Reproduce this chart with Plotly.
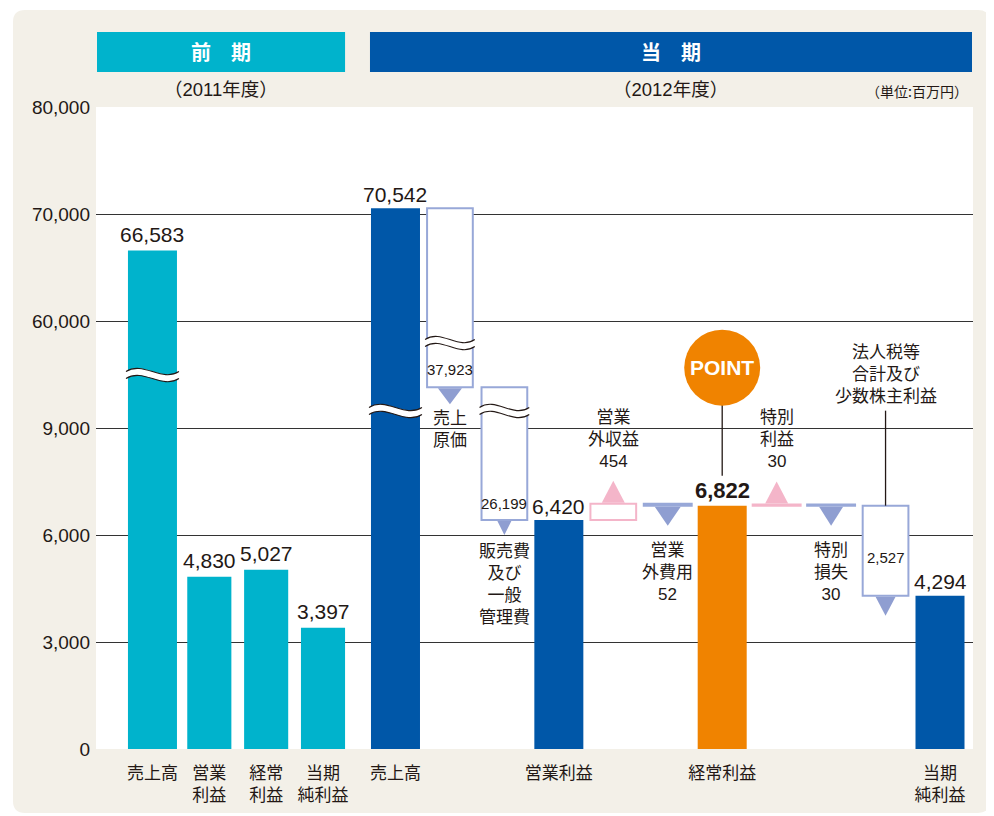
import plotly.graph_objects as go

# ---------------- data ----------------
prev_labels = ["売上高", "営業<br>利益", "経常<br>利益", "当期<br>純利益"]
prev_values = [66583, 4830, 5027, 3397]

cur_labels = ["売上高", "売上<br>原価", "販売費<br>及び<br>一般<br>管理費", "営業利益",
              "営業<br>外収益", "営業<br>外費用", "経常利益", "特別<br>利益", "特別<br>損失",
              "法人税等<br>合計及び<br>少数株主利益", "当期<br>純利益"]
cur_kinds = ["total", "dec", "dec", "total", "inc", "dec", "total", "inc", "dec", "dec", "total"]
cur_values = [70542, 37923, 26199, 6420, 454, 52, 6822, 30, 30, 2527, 4294]

y_tick_values = [0, 3000, 6000, 9000, 60000, 70000, 80000]

period_titles = ["前　期", "当　期"]
period_years = ["（2011年度）", "（2012年度）"]
unit_label = "（単位:百万円）"
point_label = "POINT"
highlight_label = "経常利益"

# ---------------- style ----------------
CYAN = "#00b3cc"
BLUE = "#0057a8"
ORANGE = "#f08300"
PURPLE_LINE = "#98a8d8"
PURPLE_TRI = "#8f9ed1"
PINK = "#f4b5c9"
TEXT = "#231815"
BEIGE = "#f3f0e8"
FONT = "Liberation Sans, Noto Sans CJK JP"
JFONT = "Noto Sans CJK JP"

# the page body has an 8px default margin, so the figure is drawn 8px smaller
PAGE_OFF = 8
W, H = 994 - PAGE_OFF, 816 - PAGE_OFF
# plot area in window pixels: x 96..973, y 107..749
PL, PR, PT, PB = 96, 973, 107, 749
ML, MR, MT, MB = PL - PAGE_OFF, (W + PAGE_OFF) - PR, PT - PAGE_OFF, (H + PAGE_OFF) - PB
PLOT_W = PR - PL
PLOT_H = PB - PT

X_RANGE = [-5.50, 10.606]
PX_X = PLOT_W / (X_RANGE[1] - X_RANGE[0])
Y_RANGE = [0, 6]
PX_Y = PLOT_H / (Y_RANGE[1] - Y_RANGE[0])

# broken axis: 0-9,000 lower segment, 50,000+ upper segment
GAP_LEVEL = 3.38


def ty(v):
    if v <= 9000:
        return v / 3000
    if v >= 50000:
        return 3 + (v - 50000) / 10000
    return GAP_LEVEL


def fmt(v):
    return f"{v:,}"


cur_x = list(range(len(cur_values)))
prev_x = [-4.463 + 1.044 * i for i in range(len(prev_values))]
prev_w = [0.9, 0.81, 0.81, 0.81]

# running waterfall levels
bottoms, tops = [], []
level = 0
for kind, v in zip(cur_kinds, cur_values):
    if kind == "total":
        b, t = 0, v
        level = v
    elif kind == "dec":
        t, b = level, level - v
        level = b
    else:
        b, t = level, level + v
        level = t
    bottoms.append(b)
    tops.append(t)


def px_height(i):
    return (ty(tops[i]) - ty(bottoms[i])) * PX_Y


fig = go.Figure()

# previous period bars
fig.add_trace(go.Bar(x=prev_x, y=[ty(v) for v in prev_values], width=prev_w,
                     marker=dict(color=CYAN, line=dict(width=0)), hoverinfo="skip"))

# current totals
tot_idx = [i for i, k in enumerate(cur_kinds) if k == "total"]
fig.add_trace(go.Bar(
    x=[cur_x[i] for i in tot_idx],
    y=[ty(tops[i]) for i in tot_idx],
    width=0.9,
    marker=dict(color=[ORANGE if cur_labels[i] == highlight_label else BLUE for i in tot_idx],
                line=dict(width=0)),
    hoverinfo="skip"))

# steps
for kind, col in (("dec", PURPLE_LINE), ("inc", PINK)):
    for thin in (False, True):
        idx = [i for i, k in enumerate(cur_kinds) if k == kind and (px_height(i) < 6) == thin]
        if not idx:
            continue
        fig.add_trace(go.Bar(
            x=[cur_x[i] for i in idx],
            y=[ty(tops[i]) - ty(bottoms[i]) for i in idx],
            base=[ty(bottoms[i]) for i in idx],
            width=0.88 if thin else 0.84,
            marker=dict(color=col if thin else "white", line=dict(color=col, width=2)),
            hoverinfo="skip"))

shapes = []
annotations = []


def px2paper_x(px):
    return (px - PL) / PLOT_W


def px2paper_y(py):
    return (PB - py) / PLOT_H


# background panel + white plot area
x0p, x1p, y0p, y1p, r = 13, 990, 10, 813, 12
pts = [(x0p + r, y0p), (x1p - r, y0p), (x1p, y0p + r), (x1p, y1p - r), (x1p - r, y1p),
       (x0p + r, y1p), (x0p, y1p - r), (x0p, y0p + r)]
P = [(px2paper_x(a), px2paper_y(b)) for a, b in pts]
c = [(px2paper_x(a), px2paper_y(b)) for a, b in [(x1p, y0p), (x1p, y1p), (x0p, y1p), (x0p, y0p)]]
panel = (f"M{P[0][0]},{P[0][1]} L{P[1][0]},{P[1][1]} Q{c[0][0]},{c[0][1]} {P[2][0]},{P[2][1]} "
         f"L{P[3][0]},{P[3][1]} Q{c[1][0]},{c[1][1]} {P[4][0]},{P[4][1]} "
         f"L{P[5][0]},{P[5][1]} Q{c[2][0]},{c[2][1]} {P[6][0]},{P[6][1]} "
         f"L{P[7][0]},{P[7][1]} Q{c[3][0]},{c[3][1]} {P[0][0]},{P[0][1]} Z")
shapes.append(dict(type="path", xref="paper", yref="paper", path=panel,
                   fillcolor=BEIGE, line=dict(width=0), layer="below"))
shapes.append(dict(type="rect", xref="paper", yref="paper", x0=0, x1=1, y0=0, y1=1,
                   fillcolor="white", line=dict(width=0), layer="below"))

# header bars
hdr_y0, hdr_y1 = px2paper_y(72), px2paper_y(32)
hdr_spans = [(X_RANGE[0] + 1 / PX_X, prev_x[-1] + prev_w[-1] / 2),
             (cur_x[0] - 0.45 - 1 / PX_X, X_RANGE[1] - 1 / PX_X)]
for (xa, xb), col, title, year in zip(hdr_spans, (CYAN, BLUE), period_titles, period_years):
    shapes.append(dict(type="rect", xref="x", yref="paper", x0=xa, x1=xb, y0=hdr_y0, y1=hdr_y1,
                       fillcolor=col, line=dict(width=0), layer="above"))
    annotations.append(dict(x=(xa + xb) / 2, y=px2paper_y(52), xref="x", yref="paper",
                            text=f"<b>{title}</b>", showarrow=False, yanchor="middle",
                            font=dict(family=JFONT, size=20, color="white")))
    annotations.append(dict(x=(xa + xb) / 2, y=px2paper_y(89), xref="x", yref="paper",
                            text=year, showarrow=False, yanchor="middle",
                            font=dict(family=FONT, size=18.5, color=TEXT)))
annotations.append(dict(x=X_RANGE[1] - 3 / PX_X, y=px2paper_y(91), xref="x", yref="paper",
                        text=unit_label, showarrow=False, xanchor="right", yanchor="middle",
                        font=dict(family=JFONT, size=14, color=TEXT)))

# value labels above solid bars
for x, v in zip(prev_x, prev_values):
    annotations.append(dict(x=x, y=ty(v), text=fmt(v), showarrow=False, yanchor="middle",
                            yshift=16, font=dict(family=FONT, size=21, color=TEXT)))
for i in tot_idx:
    hl = cur_labels[i] == highlight_label
    annotations.append(dict(x=cur_x[i], y=ty(tops[i]),
                            text=f"<b>{fmt(cur_values[i])}</b>" if hl else fmt(cur_values[i]),
                            showarrow=False, yanchor="middle", yshift=15 if hl else 14,
                            font=dict(family=FONT, size=22 if hl else 21, color=TEXT)))

# step triangles, labels
tri_size = {1: (24, 16), 2: (14, 14), 4: (23, 22), 5: (26, 19), 7: (23, 22), 8: (24, 19), 9: (20, 19)}
label_shift = {1: -42, 2: -64, 4: 64, 5: -67, 7: 65, 8: -67, 9: 131}
inner_shift = {1: 18, 2: 17, 9: 38}
for i, kind in enumerate(cur_kinds):
    if kind == "total":
        continue
    w, h = tri_size[i]
    if kind == "dec":
        path = f"M{-w/2},-1 L{w/2},-1 L0,{-1-h} Z"
        anchor = bottoms[i]
        col = PURPLE_TRI
    else:
        path = f"M{-w/2},1 L{w/2},1 L0,{1+h} Z"
        anchor = tops[i]
        col = PINK
    shapes.append(dict(type="path", xref="x", yref="y", xsizemode="pixel", ysizemode="pixel",
                       xanchor=cur_x[i], yanchor=ty(anchor), path=path,
                       fillcolor=col, line=dict(width=0), layer="above"))
    tall = px_height(i) > 40
    txt = cur_labels[i] if tall else f"{cur_labels[i]}<br>{fmt(cur_values[i])}"
    label_anchor = tops[i] if label_shift[i] > 0 else anchor
    annotations.append(dict(x=cur_x[i], y=ty(label_anchor), text=txt, showarrow=False,
                            yanchor="middle", yshift=label_shift[i],
                            font=dict(family=FONT, size=17, color=TEXT)))
    if tall:
        annotations.append(dict(x=cur_x[i], y=ty(bottoms[i]), text=fmt(cur_values[i]),
                                showarrow=False, yanchor="middle", yshift=inner_shift[i],
                                font=dict(family=FONT, size=15, color=TEXT)))

# leader line for taxes label
tax_i = 9
shapes.append(dict(type="line", xref="x", yref="y", xsizemode="pixel", ysizemode="pixel",
                   xanchor=cur_x[tax_i], yanchor=ty(tops[tax_i]), x0=0, x1=0, y0=0, y1=95,
                   line=dict(color=TEXT, width=1.3), layer="above"))

# POINT marker
hl_i = cur_labels.index(highlight_label)
shapes.append(dict(type="line", xref="x", yref="y", xsizemode="pixel", ysizemode="pixel",
                   xanchor=cur_x[hl_i], yanchor=ty(tops[hl_i]), x0=0, x1=0, y0=30, y1=101,
                   line=dict(color=TEXT, width=1.3), layer="above"))
shapes.append(dict(type="circle", xref="x", yref="y", xsizemode="pixel", ysizemode="pixel",
                   xanchor=cur_x[hl_i], yanchor=ty(tops[hl_i]), x0=-38, x1=38, y0=100, y1=176,
                   fillcolor=ORANGE, line=dict(width=0), layer="above"))
annotations.append(dict(x=cur_x[hl_i], y=ty(tops[hl_i]), text=f"<b>{point_label}</b>",
                        showarrow=False, yanchor="middle", yshift=138,
                        font=dict(family="Liberation Sans", size=21, color="white")))


# axis-break squiggles
def squiggle(xc, half_w, level):
    x0, x1 = -half_w - 2, half_w + 2
    wd = x1 - x0
    band = 3.5
    cpa = 11

    def curve(yc, rev=False):
        if not rev:
            return f"{x0},{yc} C{x0 + wd*0.33},{yc + cpa} {x0 + wd*0.67},{yc - cpa} {x1},{yc}"
        return f"{x1},{yc} C{x0 + wd*0.67},{yc - cpa} {x0 + wd*0.33},{yc + cpa} {x0},{yc}"

    common = dict(type="path", xref="x", yref="y", xsizemode="pixel", ysizemode="pixel",
                  xanchor=xc, yanchor=level, layer="above")
    shapes.append(dict(path=f"M{curve(band)} L{curve(-band, True)} Z",
                       fillcolor="white", line=dict(width=0), **common))
    shapes.append(dict(path=f"M{curve(band)}", line=dict(color=TEXT, width=1.1), **common))
    shapes.append(dict(path=f"M{curve(-band)}", line=dict(color=TEXT, width=1.1), **common))


squiggle(prev_x[0], prev_w[0] * PX_X / 2, 3.495)
squiggle(cur_x[0], 0.9 * PX_X / 2, 3.159)
squiggle(cur_x[1], 0.84 * PX_X / 2, 3.794)
squiggle(cur_x[2], 0.84 * PX_X / 2, 3.159)

# axes
xt_vals = prev_x + [cur_x[i] for i in tot_idx]
xt_text = prev_labels + [cur_labels[i] for i in tot_idx]

fig.update_layout(
    width=W, height=H, autosize=False,
    margin=dict(l=ML, r=MR, t=MT, b=MB),
    paper_bgcolor="white", plot_bgcolor="white",
    barmode="overlay", showlegend=False,
    shapes=shapes, annotations=annotations,
    xaxis=dict(range=X_RANGE, tickvals=xt_vals, ticktext=xt_text, showgrid=False,
               zeroline=False, showline=False, ticks="", ticklabelstandoff=12,
               tickfont=dict(family=FONT, size=17, color=TEXT), fixedrange=True),
    yaxis=dict(range=Y_RANGE, tickvals=[ty(v) for v in y_tick_values],
               ticktext=[fmt(v) for v in y_tick_values], showgrid=True, gridcolor="#333333",
               gridwidth=1, zeroline=False, showline=False, ticks="", ticklabelstandoff=5,
               tickfont=dict(family=FONT, size=19, color=TEXT), fixedrange=True),
)

fig.write_html("out.html")
